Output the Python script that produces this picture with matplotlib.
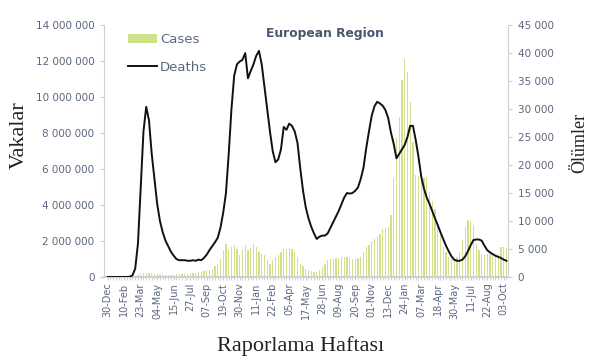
import matplotlib.pyplot as plt
import numpy as np
import pandas as pd

# weekly WHO European Region data, 30-Dec-2019 .. 10-Oct-2022
weeks = pd.date_range('2019-12-30', periods=146, freq='7D')

# cases (millions)
cases_m = [0, 0, 0, 0, 0, 0, 0, 0, 0.002, 0.01,
           0.05, 0.12, 0.2, 0.25, 0.24, 0.22, 0.2, 0.18, 0.15, 0.13,
           0.12, 0.12, 0.12, 0.13, 0.13, 0.14, 0.14, 0.15, 0.16, 0.18,
           0.2, 0.22, 0.25, 0.28, 0.3, 0.33, 0.37, 0.4, 0.45, 0.6,
           0.74, 1.02, 1.48, 1.85, 1.48, 1.65, 1.76, 1.58, 1.2, 1.5,
           1.76, 1.48, 1.6, 1.85, 1.67, 1.39, 1.3, 1.2, 0.93, 0.74,
           0.96, 1.1, 1.25, 1.39, 1.57, 1.57, 1.6, 1.57, 1.39, 1.1,
           0.74, 0.6, 0.45, 0.37, 0.33, 0.3, 0.28, 0.37, 0.56, 0.75,
           0.93, 1.02, 1.02, 1.05, 1.08, 1.1, 1.1, 1.1, 1.05, 1.02,
           1.02, 1.05, 1.1, 1.39, 1.67, 1.76, 1.95, 2.14, 2.3, 2.41,
           2.69, 2.75, 2.8, 3.43, 5.5, 7.7, 8.9, 10.95, 12.1, 11.4,
           9.75, 7.5, 5.66, 5.6, 5.56, 5.5, 5.56, 4.73, 4.2, 3.8,
           2.9, 2.32, 1.67, 1.4, 1.1, 1.02, 0.95, 1.1, 1.39, 2.04,
           2.78, 3.15, 3.1, 2.87, 1.85, 1.5, 1.3, 1.25, 1.3, 1.3,
           1.2, 1.15, 1.3, 1.67, 1.65, 1.6]

deaths = [0, 0, 0, 0, 0, 0, 0, 0, 50, 300,
          1500, 6000, 16000, 26000, 30400, 28000, 22000, 17500, 13000, 10000,
          8000, 6500, 5500, 4500, 3800, 3200, 3000, 3000, 3000, 2900,
          2900, 3000, 2900, 3100, 3000, 3400, 4000, 4800, 5500, 6200,
          7000, 8800, 11500, 15000, 22000, 30000, 36000, 38000, 38500, 38800,
          40000, 35500, 36800, 38000, 39500, 40400, 38000, 34000, 30000, 26000,
          22500, 20500, 21000, 22800, 26800, 26300, 27400, 27000, 26000, 24000,
          19500, 15500, 12500, 10500, 9000, 7800, 6800, 7200, 7400, 7400,
          7800, 8800, 9800, 10800, 11800, 13000, 14200, 15000, 14900, 15000,
          15400, 16000, 17500, 19500, 23000, 26000, 28800, 30500, 31300, 31000,
          30600, 29800, 28400, 25800, 23800, 21200, 22000, 22800, 23600, 25000,
          27000, 27000, 24500, 21500, 18000, 15800, 14200, 13100, 11800, 10500,
          9300, 8000, 6800, 5600, 4600, 3700, 3100, 2900, 2900, 3100,
          3700, 4600, 5700, 6600, 6700, 6700, 6500, 5600, 4800, 4400,
          4100, 3800, 3600, 3400, 3100, 2900]

tick_labels = [d.strftime('%d-%b') for d in weeks[::6]]

tick_col = '#5b6680'
plt.figure(figsize=(6.02, 3.64), dpi=100)
ax = plt.axes([0.173, 0.239, 0.671, 0.692])
x = np.arange(len(weeks))
ax.bar(x, np.array(cases_m) * 1e6, width=0.45, color='#cfe28a', label='Cases', zorder=1)
ax.set_ylim(0, 14e6)
ax.set_yticks(np.arange(0, 14e6 + 1, 2e6))
ax.set_yticklabels(['{:,}'.format(int(v)).replace(',', ' ') for v in np.arange(0, 14e6 + 1, 2e6)])
ax.set_xlim(-1.3, 145.6)
ax.set_xticks(x[::6])
ax.set_xticklabels(tick_labels, rotation=90, fontsize=7, color=tick_col)
ax.set_xticks(x, minor=True)
ax.tick_params(axis='x', which='both', length=2, color='#cccccc', pad=2)
ax.tick_params(axis='y', length=3, color='#cccccc', labelsize=7.5, labelcolor=tick_col, pad=4)
for s in ['top', 'right']:
    ax.spines[s].set_visible(False)
ax.spines['left'].set_color('#d0d0d0')
ax.spines['bottom'].set_color('#d0d0d0')
ax.spines['bottom'].set_linewidth(1.5)

ax2 = ax.twinx()
ax2.plot(x, deaths, color='#111111', lw=1.4, label='Deaths', zorder=3)
ax2.set_ylim(0, 45000)
ax2.set_yticks(np.arange(0, 45001, 5000))
ax2.set_yticklabels(['{:,}'.format(v).replace(',', ' ') for v in range(0, 45001, 5000)])
ax2.tick_params(axis='y', length=3, color='#cccccc', labelsize=7.5, labelcolor=tick_col, pad=4)
for s in ['top', 'left', 'bottom']:
    ax2.spines[s].set_visible(False)
ax2.spines['right'].set_color('#d0d0d0')

h1, l1 = ax.get_legend_handles_labels()
h2, l2 = ax2.get_legend_handles_labels()
leg = ax2.legend(h1 + h2, l1 + l2, loc='upper left', bbox_to_anchor=(0.03, 1.015), frameon=False,
                 fontsize=9.5, handlelength=2.2, handletextpad=0.2, labelspacing=1.1)
for t in leg.get_texts():
    t.set_color(tick_col)

ax.text(0.547, 0.968, 'European Region', transform=ax.transAxes, ha='center', va='center',
        fontsize=8.8, fontweight='bold', color='#4a5570')
plt.figtext(0.032, 0.63, 'Vakalar', rotation=90, ha='center', va='center',
            family='Liberation Serif', fontsize=16, color='#222222')
plt.figtext(0.5, 0.05, 'Raporlama Haftası', ha='center', va='center',
            family='Liberation Serif', fontsize=16, color='#222222')
plt.figtext(0.963, 0.607, 'Ölümler', rotation=90, ha='center', va='center',
            family='Liberation Serif', fontsize=13, color='#222222')
plt.savefig('out.png', dpi=100)
